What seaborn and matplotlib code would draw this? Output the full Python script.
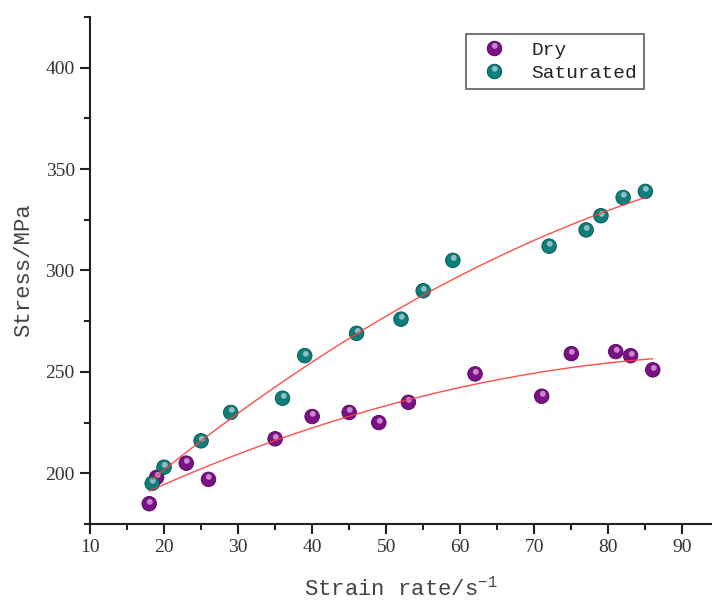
import numpy as np
import pandas as pd
import seaborn as sns
from matplotlib import pyplot as plt
from matplotlib.path import Path
from matplotlib.lines import Line2D
from matplotlib.legend_handler import HandlerTuple

# values
dry_rate = [18, 19, 23, 26, 35, 40, 45, 49, 53, 62, 71, 75, 81, 83, 86]
dry_stress = [185, 198, 205, 197, 217, 228, 230, 225, 235, 249, 238, 259, 260, 258, 251]
sat_rate = [18.4, 20, 25, 29, 36, 39, 46, 52, 55, 59, 72, 77, 79, 82, 85]
sat_stress = [195, 203, 216, 230, 237, 258, 269, 276, 290, 305, 312, 320, 327, 336, 339]
groups = ['Dry', 'Saturated']
colors = {'Dry': '#7d0f87', 'Saturated': '#0b7f7a'}
edges = {'Dry': '#4e0656', 'Saturated': '#04514d'}
x_ticks = [10, 20, 30, 40, 50, 60, 70, 80, 90]
y_ticks = [200, 250, 300, 350, 400]

sns.set_theme(style='ticks')
plt.rcParams['font.family'] = ['Liberation Serif', 'DejaVu Serif']
plt.rcParams['mathtext.fontset'] = 'custom'
plt.rcParams['mathtext.rm'] = 'Liberation Mono'
plt.rcParams['mathtext.default'] = 'rm'

df = pd.concat([
    pd.DataFrame({'rate': dry_rate, 'stress': dry_stress, 'group': 'Dry'}),
    pd.DataFrame({'rate': sat_rate, 'stress': sat_stress, 'group': 'Saturated'}),
])

# small shiny spot for the "ball" look, near the top of the marker box
spot = Path.circle(center=(0.02, 0.18), radius=0.2)
box = Path([(-0.5, -0.5), (0.5, 0.5)], [Path.MOVETO, Path.MOVETO])
spot_marker = Path.make_compound_path(box, spot)
shine_col = '#efe0f2'

fig = plt.figure(figsize=(7.12, 6.02), dpi=100)
ax = fig.add_axes([0.1264, 0.1296, 0.8736, 0.8422])

sns.scatterplot(data=df, x='rate', y='stress', hue='group', palette=colors,
                s=110, edgecolor=[edges[g] for g in df['group']], linewidth=0.6,
                legend=False, ax=ax, zorder=3)
sns.scatterplot(data=df, x='rate', y='stress', marker=spot_marker, s=110,
                color=shine_col, linewidth=0, alpha=0.6, legend=False, ax=ax, zorder=4)

# quadratic fit lines
for g in groups:
    sub = df[df['group'] == g]
    coef = np.polyfit(sub['rate'], sub['stress'], 2)
    xs = np.linspace(sub['rate'].min(), sub['rate'].max(), 100)
    sns.lineplot(x=xs, y=np.polyval(coef, xs), color='#ff3b3b', lw=1.0,
                 ax=ax, zorder=5, alpha=0.9)

ax.set_xlim(10, 94)
ax.set_ylim(175, 425)
ax.set_xticks(x_ticks)
ax.set_yticks(y_ticks)
ax.set_xticks(np.arange(15, 94, 10), minor=True)
ax.set_yticks(np.arange(175, 426, 50), minor=True)
sns.despine(ax=ax)
for side in ['left', 'bottom']:
    ax.spines[side].set_linewidth(1.5)
    ax.spines[side].set_color('#222222')
ax.tick_params(which='major', length=7, width=1.5, color='#222222',
               labelsize=14, labelcolor='#333333', direction='out', pad=4)
ax.tick_params(which='minor', length=4, width=1.5, color='#222222', direction='out')

lab_font = {'family': 'Liberation Mono', 'size': 16, 'color': '#444444'}
ax.set_xlabel('Strain rate/s$^{-1}$', fontdict=lab_font, labelpad=15)
ax.set_ylabel('Stress/MPa', fontdict=lab_font, labelpad=8)

handles = []
for g in groups:
    ball = Line2D([], [], ls='none', marker='o', ms=10.5, mfc=colors[g],
                  mec=edges[g], mew=0.6)
    shine = Line2D([], [], ls='none', marker=spot_marker, ms=10.5, mfc=shine_col,
                   mew=0, alpha=0.6)
    handles.append((ball, shine))
leg = ax.legend(handles, groups, handler_map={tuple: HandlerTuple(ndivide=1)},
                loc='upper left', bbox_to_anchor=(0.6045, 0.966), borderaxespad=0,
                frameon=True, fancybox=False, borderpad=0.35, handlelength=2.2,
                handletextpad=0.8, labelspacing=0.3,
                prop={'family': 'Liberation Mono', 'size': 14})
leg.get_frame().set_edgecolor('#444444')
leg.get_frame().set_linewidth(1.3)
for t in leg.get_texts():
    t.set_color('#222222')

plt.savefig('out.png', dpi=100)
